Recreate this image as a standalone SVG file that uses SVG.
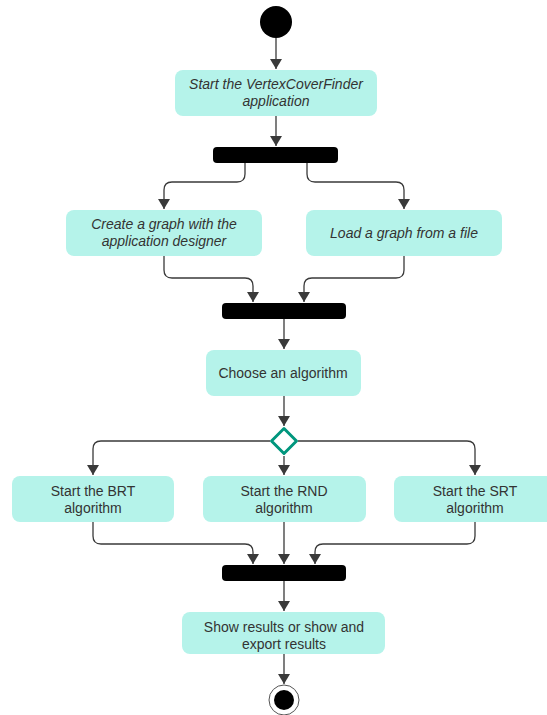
<svg xmlns="http://www.w3.org/2000/svg" width="547" height="715" viewBox="0 0 547 715">
<defs>
<style>
.box{fill:#b5f3ea;stroke:none}
.bar{fill:#000}
.t{font-family:"Liberation Sans",Arial,sans-serif;font-size:14px;fill:#333;text-anchor:middle}
.i{font-style:italic}
.c{fill:none;stroke:#3a3a3a;stroke-width:1.3;marker-end:url(#ah)}
</style>
<marker id="ah" viewBox="0 0 10 12" refX="10" refY="6" markerWidth="10" markerHeight="12" markerUnits="userSpaceOnUse" orient="auto">
<path d="M0,0 L10,6 L0,12 Z" fill="#3a3a3a"/>
</marker>
</defs>
<rect width="547" height="715" fill="#fff"/>
<g id="connectors">
<path class="c" d="M276,38 V69"/>
<path class="c" d="M276,116 V146"/>
<path class="c" d="M245,163 V174 Q245,182 237,182 H172 Q164,182 164,190 V209"/>
<path class="c" d="M307,163 V174 Q307,182 315,182 H396 Q404,182 404,190 V209"/>
<path class="c" d="M164,256 V270 Q164,278 172,278 H245 Q253,278 253,286 V302"/>
<path class="c" d="M404,256 V270 Q404,278 396,278 H312 Q304,278 304,286 V302"/>
<path class="c" d="M284,319 V349"/>
<path class="c" d="M284,396 V426"/>
<path class="c" d="M270,441 H101 Q93,441 93,449 V475"/>
<path class="c" d="M298,441 H467 Q475,441 475,449 V475"/>
<path class="c" d="M284,456 V475"/>
<path class="c" d="M93,522 V536 Q93,544 101,544 H245 Q253,544 253,552 V564"/>
<path class="c" d="M284,522 V564"/>
<path class="c" d="M475,522 V536 Q475,544 467,544 H323 Q315,544 315,552 V564"/>
<path class="c" d="M284,580 V611"/>
<path class="c" d="M284,654 V684"/>
</g>
<g id="start"><circle cx="276" cy="22" r="16" fill="#000"/></g>
<g id="n1"><rect class="box" x="175" y="70" width="202" height="46" rx="8"/>
<text class="t i" x="276" y="89">Start the VertexCoverFinder</text>
<text class="t i" x="276" y="106">application</text></g>
<g id="fork1"><rect class="bar" x="213" y="147" width="125" height="16" rx="4"/></g>
<g id="n2"><rect class="box" x="66" y="210" width="196" height="46" rx="8"/>
<text class="t i" x="164" y="229">Create a graph with the</text>
<text class="t i" x="164" y="246">application designer</text></g>
<g id="n3"><rect class="box" x="306" y="210" width="196" height="46" rx="8"/>
<text class="t i" x="404" y="238">Load a graph from a file</text></g>
<g id="join1"><rect class="bar" x="222" y="303" width="124" height="16" rx="4"/></g>
<g id="n4"><rect class="box" x="206" y="350" width="155" height="46" rx="8"/>
<text class="t" x="283" y="378">Choose an algorithm</text></g>
<g id="decision"><path d="M284,428.5 L296.5,441 L284,453.5 L271.5,441 Z" fill="#fff" stroke="#00967d" stroke-width="3" stroke-linejoin="round"/></g>
<g id="n5"><rect class="box" x="12" y="476" width="162" height="46" rx="8"/>
<text class="t" x="93" y="496">Start the BRT</text>
<text class="t" x="93" y="513">algorithm</text></g>
<g id="n6"><rect class="box" x="203" y="476" width="163" height="46" rx="8"/>
<text class="t" x="284" y="496">Start the RND</text>
<text class="t" x="284" y="513">algorithm</text></g>
<g id="n7"><rect class="box" x="394" y="476" width="163" height="46" rx="8"/>
<text class="t" x="475" y="496">Start the SRT</text>
<text class="t" x="475" y="513">algorithm</text></g>
<g id="join2"><rect class="bar" x="222" y="565" width="124" height="16" rx="4"/></g>
<g id="n8"><rect class="box" x="182" y="612" width="203" height="42" rx="8"/>
<text class="t" x="284" y="632">Show results or show and</text>
<text class="t" x="284" y="649">export results</text></g>
<g id="end"><circle cx="284" cy="700" r="15" fill="#fff" stroke="#555" stroke-width="1"/>
<circle cx="284" cy="700" r="10" fill="#000"/></g>
</svg>
